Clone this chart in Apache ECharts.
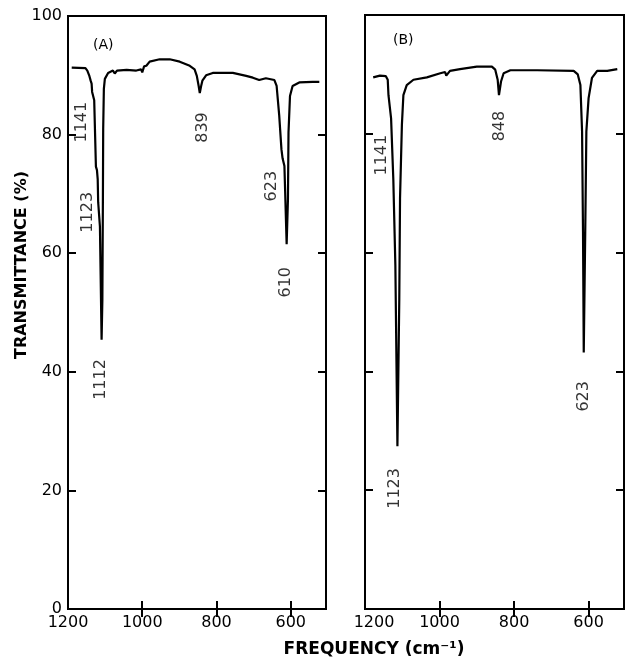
<!DOCTYPE html>
<html>
<head>
<meta charset="utf-8">
<script src="https://cdn.jsdelivr.net/npm/echarts@6/dist/echarts.min.js"></script>
<style>html,body{margin:0;padding:0;background:#fff;}#c{width:626px;height:658px;}</style>
</head>
<body>
<div id="c"></div>
<script>
// ---- data ----
const spectrumA = [
  [1190,91.3],[1187,91.3],[1153,91.2],[1148,90.8],[1143,90.0],[1139,89.1],[1136.4,88.6],[1135,87.2],
  [1129.4,85.8],[1124.8,74.6],[1122,74.0],[1120,72.5],[1118.7,68.6],[1114,64.5],[1109.5,45.4],
  [1107.4,52.2],[1106,69.0],[1105.2,81.0],[1103.4,87.7],[1100.7,89.4],[1092,90.4],[1079,90.8],[1074,90.3],
  [1068,90.8],[1042,90.9],[1016,90.8],[1003,91.0],[1000,90.5],[995,91.5],[989,91.6],[980,92.3],
  [953,92.7],[926,92.7],[899,92.3],[872,91.6],[859,91.0],[853,89.9],[848,88.2],[845,87.0],
  [841,88.3],[838,89.1],[828,90.0],[810,90.4],[756,90.4],[720,89.9],[702,89.6],[685,89.2],
  [667,89.5],[644,89.2],[638,88.2],[631,83.2],[625,77.5],[622,76.0],[617,74.7],[611,61.5],
  [607.5,69.1],[606,80.4],[602,86.5],[595,88.2],[577,88.8],[541,88.9],[523,88.9]
];
const spectrumB = [
  [1178,89.5],[1160,89.8],[1144,89.7],[1139,89.1],[1137,86.5],[1130,82.6],[1124,72.3],
  [1118.5,57.8],[1113,27.4],[1108,52.2],[1106,69.1],[1101,81.5],[1097,86.5],[1088,88.2],
  [1070,89.1],[1034,89.5],[998,90.2],[985,90.4],[982,89.8],[972,90.6],[945,90.9],[900,91.3],
  [859.5,91.3],[850.5,90.8],[844,89.1],[840.5,86.5],[835,88.8],[828,90.2],[810,90.7],
  [738,90.7],[640,90.6],[629,90.0],[622,88.2],[617.5,80.4],[615,63.5],[613,43.2],[609,63.5],
  [606,80.4],[600,86.0],[591,89.4],[577,90.6],[550,90.6],[523,90.9]
];
const peakLabelsA = [[1162,82.1,'1141'],[1146,66.9,'1123'],[1111,38.7,'1112'],[838,81.2,'839'],[650,71.3,'623'],[612,55.1,'610']];
const peakLabelsB = [[1154,76.4,'1141'],[837,81.3,'848'],[1119,20.3,'1123'],[614,35.8,'623']];
const xLabelValues = [1200,1000,800,600];
const xTickValues = [1000,800,600];
const yLabelValues = [0,20,40,60,80,100];
const yTickValues = [20,40,60,80];
const xMin = 505, xMax = 1200;

// ---- chart ----
const FONT = 'DejaVu Sans';
const ink = '#000';
function xAx(grid, pos, labels, shiftFirst) {
  return {
    type:'value', gridIndex:grid, position:pos, inverse:true, min:xMin, max:xMax,
    axisLine:{show:false}, splitLine:{show:false},
    axisTick:{show:true, inside:true, length:8, customValues:xTickValues, lineStyle:{color:ink,width:2}},
    axisLabel:{show:labels, customValues:xLabelValues, color:ink, fontFamily:FONT, fontSize:16, margin:6,
      formatter: v => (shiftFirst && v === xMax) ? '{s|' + v + '}' : String(v),
      rich:{s:{fontFamily:FONT, fontSize:16, color:ink, padding:[0,0,0,18]}}}
  };
}
function yAx(grid, pos, labels) {
  return {
    type:'value', gridIndex:grid, position:pos, min:0, max:100,
    axisLine:{show:false}, splitLine:{show:false},
    axisTick:{show:true, inside:true, length:8, customValues:yTickValues, lineStyle:{color:ink,width:2}},
    axisLabel:{show:labels, customValues:yLabelValues, color:ink, fontFamily:FONT, fontSize:16, margin:6,
      formatter: v => String(v)}
  };
}
function peakSeries(data, xi, yi) {
  return {
    type:'scatter', xAxisIndex:xi, yAxisIndex:yi, data:data, symbolSize:0, silent:true,
    label:{show:true, position:'inside', rotate:90, formatter:p=>p.data[2], color:ink,
      fontFamily:FONT, fontSize:16, textBorderWidth:0}
  };
}
const chart = echarts.init(document.getElementById('c'), null, {renderer:'canvas'});
chart.setOption({
  animation:false,
  grid:[
    {left:68, top:16, width:258, height:593, show:true, borderColor:ink, borderWidth:2, backgroundColor:'transparent'},
    {left:365, top:15, width:259, height:594, show:true, borderColor:ink, borderWidth:2, backgroundColor:'transparent'}
  ],
  xAxis:[ xAx(0,'bottom',true,false), xAx(0,'top',false,false), xAx(1,'bottom',true,true), xAx(1,'top',false,false) ],
  yAxis:[ yAx(0,'left',true), yAx(0,'right',false), yAx(1,'left',false), yAx(1,'right',false) ],
  series:[
    {type:'line', xAxisIndex:0, yAxisIndex:0, data:spectrumA, showSymbol:false, lineStyle:{color:ink,width:2.2}, silent:true},
    {type:'line', xAxisIndex:2, yAxisIndex:2, data:spectrumB, showSymbol:false, lineStyle:{color:ink,width:2.2}, silent:true},
    peakSeries(peakLabelsA,0,0),
    peakSeries(peakLabelsB,2,2)
  ],
  graphic:[
    {type:'text', left:93, top:38, style:{text:'(A)', font:'14px '+FONT, fill:ink}},
    {type:'text', left:393, top:33, style:{text:'(B)', font:'14px '+FONT, fill:ink}},
    {type:'text', x:22, y:265, rotation:Math.PI/2, style:{text:'TRANSMITTANCE (%)', font:'bold 16px '+FONT, fill:ink, align:'center', verticalAlign:'middle'}},
    {type:'text', x:374, y:650, style:{text:'FREQUENCY (cm\u207B\u00B9)', font:'bold 17px '+FONT, fill:ink, align:'center', verticalAlign:'middle'}}
  ]
});
</script>
</body>
</html>
